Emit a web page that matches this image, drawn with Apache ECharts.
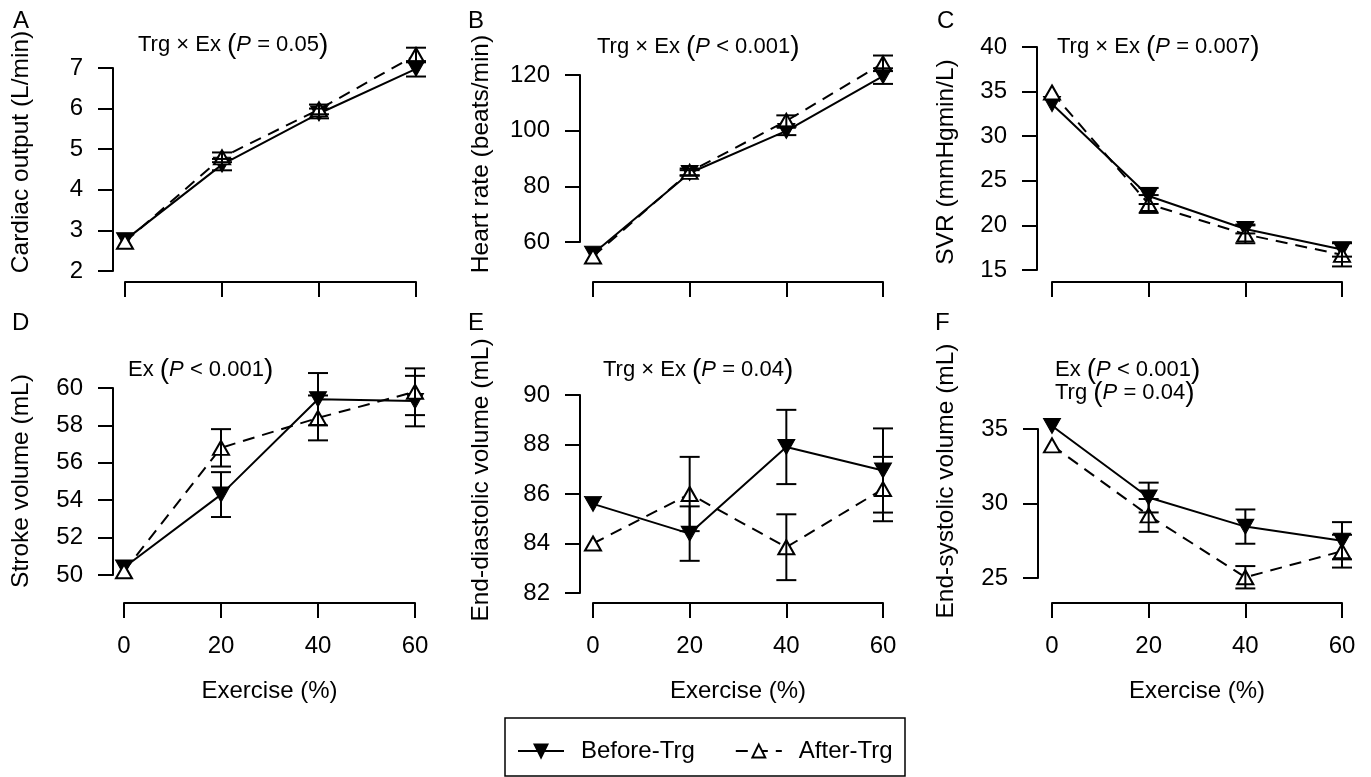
<!DOCTYPE html>
<html>
<head>
<meta charset="utf-8">
<script src="https://cdn.jsdelivr.net/npm/echarts@6/dist/echarts.min.js"></script>
<style>
  html, body { margin: 0; padding: 0; background: #fff; }
  #chart { width: 1371px; height: 777px; }
</style>
</head>
<body>
<div id="chart"></div>
<script>
// exercise intensity (%)
const exercise = [0, 20, 40, 60];

// A: cardiac output (L/min)
const coBefore = [2.76, 4.62, 5.88, 6.98];
const coBeforeSe = [0, 0.14, 0.12, 0.19];
const coAfter = [2.72, 4.80, 5.98, 7.32];
const coAfterSe = [0, 0.12, 0.12, 0.18];

// B: heart rate (beats/min)
const hrBefore = [55.8, 84.8, 99.9, 119.6];
const hrBeforeSe = [0, 1.0, 1.5, 2.8];
const hrAfter = [54.8, 85.2, 103.5, 124.2];
const hrAfterSe = [0, 1.2, 2.0, 2.8];

// C: SVR
const svrBefore = [33.6, 23.3, 19.6, 17.3];
const svrBeforeSe = [0, 0.9, 0.5, 0.8];
const svrAfter = [34.9, 22.4, 19.0, 16.7];
const svrAfterSe = [0, 1.0, 1.0, 1.3];

// D: stroke volume (mL)
const svBefore = [50.4, 54.3, 59.4, 59.3];
const svBeforeSe = [0, 1.2, 1.4, 1.35];
const svAfter = [50.2, 56.8, 58.4, 59.8];
const svAfterSe = [0, 1.0, 1.2, 1.25];

// E: end-diastolic volume (mL)
const edvBefore = [85.6, 84.4, 87.9, 86.95];
const edvBeforeSe = [0, 1.1, 1.5, 1.7];
const edvAfter = [84.0, 86.0, 83.85, 86.2];
const edvAfterSe = [0, 1.5, 1.33, 1.3];

// F: end-systolic volume (mL)
const esvBefore = [35.2, 30.4, 28.45, 27.5];
const esvBeforeSe = [0, 1.0, 1.15, 1.25];
const esvAfter = [33.9, 29.2, 25.05, 26.8];
const esvAfterSe = [0, 1.1, 0.75, 1.1];

const FONT = 'Liberation Sans, Arial, sans-serif';

// panel setup: data + where each panel sits
const panels = [
  { letter: 'A', title: 'Cardiac output (L/min)', before: coBefore, beforeSe: coBeforeSe, after: coAfter, afterSe: coAfterSe,
    yMin: 2, yMax: 7, yStep: 1, left: 125, top: 68, width: 291, height: 203, yOff: 12, xOff: 11,
    nameX: 21, nameY: 152, letterX: 13, letterY: 21, bottom: false },
  { letter: 'B', title: 'Heart rate (beats/min)', before: hrBefore, beforeSe: hrBeforeSe, after: hrAfter, afterSe: hrAfterSe,
    yMin: 60, yMax: 120, yStep: 20, left: 593, top: 75, width: 290, height: 167, yOff: 13, xOff: 40,
    nameX: 481, nameY: 154, letterX: 468, letterY: 21, bottom: false },
  { letter: 'C', title: 'SVR (mmHgmin/L)', before: svrBefore, beforeSe: svrBeforeSe, after: svrAfter, afterSe: svrAfterSe,
    yMin: 15, yMax: 40, yStep: 5, left: 1052, top: 47, width: 290, height: 223, yOff: 15, xOff: 12,
    nameX: 946, nameY: 162, letterX: 937, letterY: 21, bottom: false },
  { letter: 'D', title: 'Stroke volume (mL)', before: svBefore, beforeSe: svBeforeSe, after: svAfter, afterSe: svAfterSe,
    yMin: 50, yMax: 60, yStep: 2, left: 124, top: 388, width: 291, height: 187, yOff: 11, xOff: 28,
    nameX: 21, nameY: 481, letterX: 12, letterY: 323, bottom: true },
  { letter: 'E', title: 'End-diastolic volume (mL)', before: edvBefore, beforeSe: edvBeforeSe, after: edvAfter, afterSe: edvAfterSe,
    yMin: 82, yMax: 90, yStep: 2, left: 593, top: 395, width: 290, height: 198, yOff: 13, xOff: 10,
    nameX: 481, nameY: 480, letterX: 468, letterY: 323, bottom: true },
  { letter: 'F', title: 'End-systolic volume (mL)', before: esvBefore, beforeSe: esvBeforeSe, after: esvAfter, afterSe: esvAfterSe,
    yMin: 25, yMax: 35, yStep: 5, left: 1052, top: 429, width: 290, height: 149, yOff: 14, xOff: 25,
    nameX: 946, nameY: 481, letterX: 935, letterY: 323, bottom: true }
];

// statistics text over each panel
const notes = [
  { x: 138, y: 45, parts: ['Trg \u00d7 Ex ', '= 0.05'] },
  { x: 597, y: 47, parts: ['Trg \u00d7 Ex ', '< 0.001'] },
  { x: 1057, y: 47, parts: ['Trg \u00d7 Ex ', '= 0.007'] },
  { x: 128, y: 370, parts: ['Ex ', '< 0.001'] },
  { x: 603, y: 370, parts: ['Trg \u00d7 Ex ', '= 0.04'] },
  { x: 1055, y: 370, parts: ['Ex ', '< 0.001'] },
  { x: 1055, y: 393, parts: ['Trg ', '= 0.04'] }
];

const black = '#000';

function errorBar(params, api) {
  const x = api.value(0);
  const lo = api.value(1);
  const hi = api.value(2);
  if (hi === lo) return;
  const a = api.coord([x, hi]);
  const b = api.coord([x, lo]);
  const h = 10;
  const st = { stroke: black, lineWidth: 2, fill: null };
  return {
    type: 'group',
    children: [
      { type: 'line', shape: { x1: a[0], y1: a[1], x2: b[0], y2: b[1] }, style: st },
      { type: 'line', shape: { x1: a[0] - h, y1: a[1], x2: a[0] + h, y2: a[1] }, style: st },
      { type: 'line', shape: { x1: b[0] - h, y1: b[1], x2: b[0] + h, y2: b[1] }, style: st }
    ]
  };
}

let grid = [], xAxis = [], yAxis = [], series = [], graphic = [];

panels.forEach((p, i) => {
  grid.push({ left: p.left, top: p.top, width: p.width, height: p.height });
  xAxis.push({
    gridIndex: i, type: 'value', min: 0, max: 60, interval: 20, offset: p.xOff,
    axisLine: { show: true, onZero: false, lineStyle: { color: black, width: 2 } },
    axisTick: { show: true, length: 15, lineStyle: { color: black, width: 2 } },
    axisLabel: { show: p.bottom, margin: 31, color: black, fontSize: 24, fontFamily: FONT },
    splitLine: { show: false },
    name: p.bottom ? 'Exercise (%)' : '', nameLocation: 'middle', nameGap: 76,
    nameTextStyle: { color: black, fontSize: 24, fontFamily: FONT }
  });
  yAxis.push({
    gridIndex: i, type: 'value', min: p.yMin, max: p.yMax, interval: p.yStep, offset: p.yOff,
    axisLine: { show: true, onZero: false, lineStyle: { color: black, width: 2 } },
    axisTick: { show: true, length: 15, lineStyle: { color: black, width: 2 } },
    axisLabel: { margin: 30, color: black, fontSize: 24, fontFamily: FONT },
    splitLine: { show: false }
  });
  series.push({
    name: 'Before-Trg', type: 'line', xAxisIndex: i, yAxisIndex: i, clip: false, z: 3,
    data: exercise.map((x, k) => [x, p.before[k]]),
    symbol: 'triangle', symbolRotate: 180, symbolSize: [17, 15],
    lineStyle: { color: black, width: 2 },
    itemStyle: { color: black, borderColor: black, borderWidth: 1 }
  });
  series.push({
    name: 'After-Trg', type: 'line', xAxisIndex: i, yAxisIndex: i, clip: false, z: 4,
    data: exercise.map((x, k) => [x, p.after[k]]),
    symbol: 'triangle', symbolSize: [16, 14],
    lineStyle: { color: black, width: 2, type: [12, 8] },
    itemStyle: { color: '#fff', borderColor: black, borderWidth: 2 }
  });
  series.push({
    type: 'custom', xAxisIndex: i, yAxisIndex: i, z: 5, clip: false, silent: true,
    renderItem: errorBar, encode: { x: 0, y: [1, 2] },
    data: exercise.map((x, k) => [x, p.before[k] - p.beforeSe[k], p.before[k] + p.beforeSe[k]])
  });
  series.push({
    type: 'custom', xAxisIndex: i, yAxisIndex: i, z: 5, clip: false, silent: true,
    renderItem: errorBar, encode: { x: 0, y: [1, 2] },
    data: exercise.map((x, k) => [x, p.after[k] - p.afterSe[k], p.after[k] + p.afterSe[k]])
  });
  // y axis title, rotated
  graphic.push({
    type: 'text', x: p.nameX, y: p.nameY, rotation: Math.PI / 2,
    style: { text: p.title, font: '24.5px ' + FONT, fill: black, align: 'center', verticalAlign: 'middle' }
  });
  // panel letter
  graphic.push({
    type: 'text', x: p.letterX, y: p.letterY,
    style: { text: p.letter, font: '24px ' + FONT, fill: black, align: 'left', verticalAlign: 'middle' }
  });
});

notes.forEach(n => {
  graphic.push({
    type: 'text', x: n.x, y: n.y,
    style: {
      text: '{n|' + n.parts[0] + '}{b|(}{i|P}{n| ' + n.parts[1] + '}{b|)}',
      align: 'left', verticalAlign: 'middle', fill: black,
      rich: {
        n: { font: '22px ' + FONT, fill: black },
        i: { font: 'italic 22px ' + FONT, fill: black },
        b: { font: '28px ' + FONT, fill: black }
      }
    }
  });
});

// legend frame
graphic.push({
  type: 'rect', shape: { x: 505, y: 718, width: 400, height: 58 },
  style: { fill: null, stroke: black, lineWidth: 1.5 }
});

const chart = echarts.init(document.getElementById('chart'));
chart.setOption({
  backgroundColor: '#fff',
  animation: false,
  grid: grid,
  xAxis: xAxis,
  yAxis: yAxis,
  series: series,
  graphic: graphic,
  legend: {
    data: ['Before-Trg', 'After-Trg'],
    left: 512, top: 734,
    itemWidth: 46, itemHeight: 16, itemGap: 40,
    textStyle: { color: black, fontSize: 24, fontFamily: FONT, padding: [0, 0, 0, 12] }
  }
});
</script>
</body>
</html>
